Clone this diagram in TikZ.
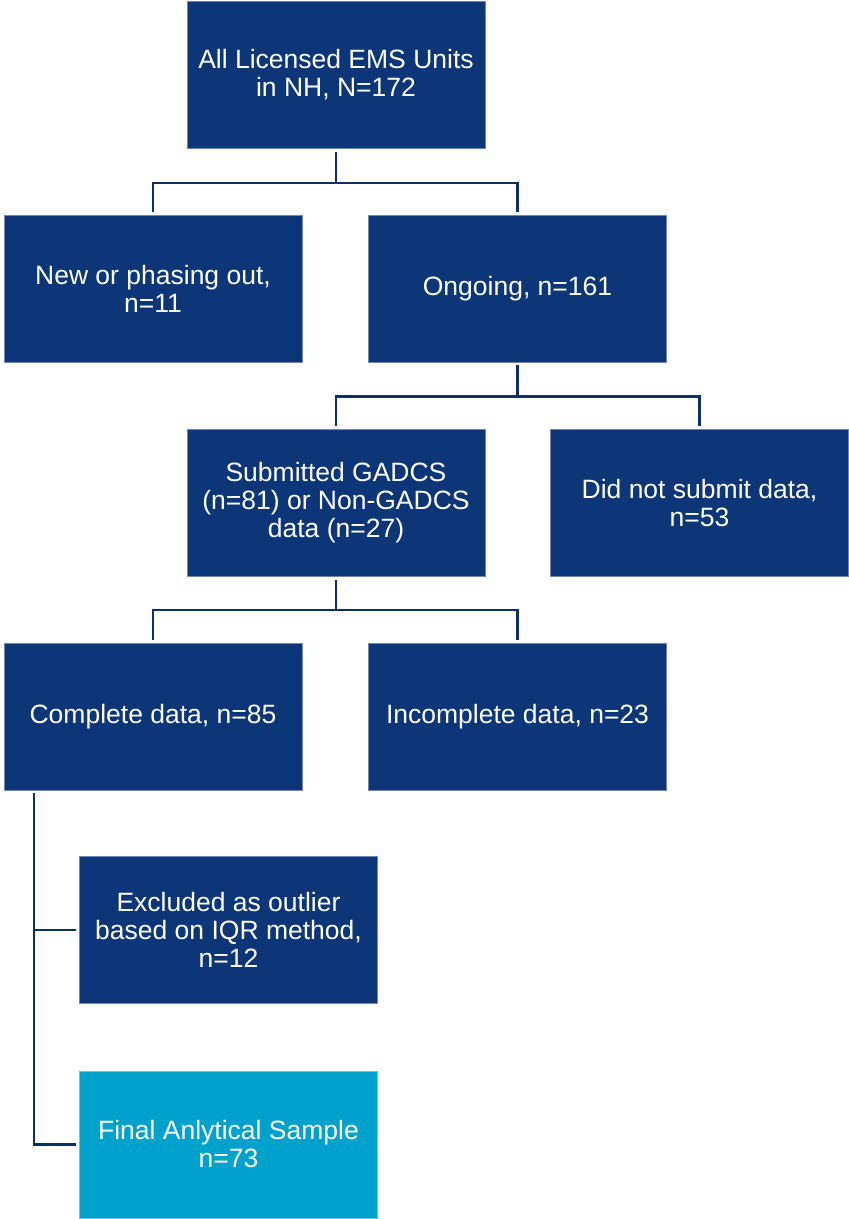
\documentclass[tikz,border=0pt]{standalone}
\usepackage{fontspec}
\setmainfont{Liberation Sans}
\usepackage{xcolor}
\usepackage{tikz}
\usetikzlibrary{calc,positioning}
\definecolor{navy}{HTML}{0C3678}
\definecolor{navyline}{HTML}{0F2F6C}
\definecolor{navyedge}{HTML}{6F86B2}
\definecolor{cyanbox}{HTML}{00A2CB}

\begin{document}
\begin{tikzpicture}[x=1pt,y=-1pt,
  box/.style={draw=navyedge, line width=0.7pt, fill=navy, text=white,
              minimum width=298pt, minimum height=147pt, inner sep=0pt,
              align=center, font=\fontsize{26.5}{28}\selectfont},
  conn/.style={draw=navyline, line width=2.2pt}]

  \useasboundingbox (0,0) rectangle (849,1219);

  \def\g{3pt}

  % caixas
  \node[box] (all)     at (336,75)      {All Licensed EMS Units\\in NH, N=172};
  \node[box] (newp)    at (153,288.5)   {New or phasing out,\\n=11};
  \node[box] (ongo)    at (517.5,288.5) {Ongoing, n=161};
  \node[box] (subm)    at (336,503)     {Submitted GADCS\\(n=81) or Non-GADCS\\data (n=27)};
  \node[box] (nosub)   at (699.5,503)   {Did not submit data,\\n=53};
  \node[box] (compl)   at (153,716.5)   {Complete data, n=85};
  \node[box] (incompl) at (517.5,716.5) {Incomplete data, n=23};
  \node[box] (outl)    at (228.5,930)   {Excluded as outlier\\based on IQR method,\\n=12};
  \node[box, fill=cyanbox, draw=cyanbox!60] (final) at (228.5,1144.5)
        {Final Anlytical Sample\\n=73};

  % ramos
  \coordinate (b1) at (336,183);
  \draw[conn] ([yshift=-\g]all.south) -- (b1);
  \draw[conn] (b1) -| ([yshift=\g]newp.north);
  \draw[conn] (b1) -| ([yshift=\g]ongo.north);

  \coordinate (b2) at (517.5,396.5);
  \draw[conn] ([yshift=-\g]ongo.south) -- (b2);
  \draw[conn] (b2) -| ([yshift=\g]subm.north);
  \draw[conn] (b2) -| ([yshift=\g]nosub.north);

  \coordinate (b3) at (336,610);
  \draw[conn] ([yshift=-\g]subm.south) -- (b3);
  \draw[conn] (b3) -| ([yshift=\g]compl.north);
  \draw[conn] (b3) -| ([yshift=\g]incompl.north);

  % tronco lateral
  \coordinate (s1) at (34,793);
  \draw[conn] (s1) |- ([xshift=-\g]final.west);
  \draw[conn] (s1 |- outl.west) -- ([xshift=-\g]outl.west);

\end{tikzpicture}
\end{document}
